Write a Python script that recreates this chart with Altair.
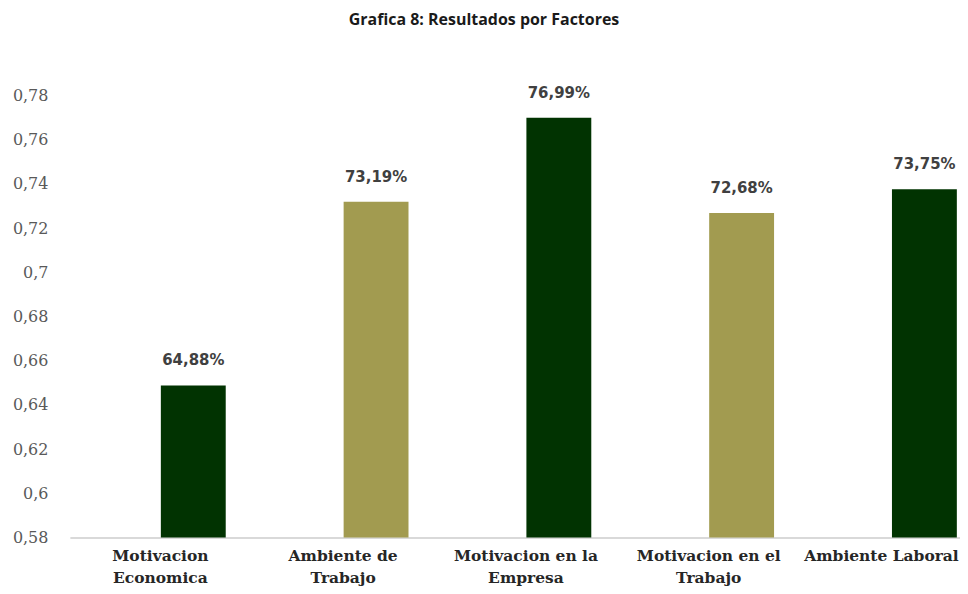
import altair as alt
import pandas as pd

categories = ["Motivacion Economica", "Ambiente de Trabajo", "Motivacion en la Empresa",
              "Motivacion en el Trabajo", "Ambiente Laboral"]
label_lines = [["Motivacion", "Economica"], ["Ambiente de", "Trabajo"],
               ["Motivacion en la", "Empresa"], ["Motivacion en el", "Trabajo"],
               ["Ambiente Laboral"]]
values = [0.6488, 0.7319, 0.7699, 0.7268, 0.7375]
value_labels = ["64,88%", "73,19%", "76,99%", "72,68%", "73,75%"]
groups = ["a", "b", "a", "b", "a"]
y_ticks = [0.58, 0.60, 0.62, 0.64, 0.66, 0.68, 0.70, 0.72, 0.74, 0.76, 0.78]

df = pd.DataFrame({"cat": categories, "value": values, "label": value_labels, "grp": groups})

mapping = "{" + ", ".join(
    f"'{c}': [{', '.join(repr(l) for l in ls)}]" for c, ls in zip(categories, label_lines)
) + "}"
x_label_expr = f"{mapping}[datum.value]"
last_cat = categories[-1]

BAR_SHIFT = 44  # bars sit right of the category centre (Excel two-series layout)

x = alt.X("cat:N", sort=categories, title=None,
          scale=alt.Scale(paddingInner=0.13, paddingOuter=0, align=0),
          axis=alt.Axis(labelExpr=x_label_expr, labelAngle=0, labelFont="DejaVu Serif",
                        labelFontWeight="bold", labelFontSize=15.5, labelColor="#262626",
                        labelPadding=11, labelLineHeight=22, ticks=False,
                        labelOffset=alt.condition(f"datum.value == '{last_cat}'",
                                                  alt.value(1), alt.value(11)),
                        domainColor="#d9d9d9", domainWidth=2, labelLimit=300))

y = alt.Y("value:Q", title=None,
          scale=alt.Scale(domain=[0.58, 0.78], nice=False, zero=False),
          axis=alt.Axis(values=y_ticks, labelExpr="replace(format(datum.value, '~g'), '.', ',')",
                        labelFont="DejaVu Serif", labelFontSize=16, labelColor="#595959",
                        labelPadding=22, ticks=False, domain=False, grid=False))

base = alt.Chart(df)
bars = base.mark_bar(width=alt.RelativeBandSize(0.408), xOffset=BAR_SHIFT).encode(
    x=x, y=y, y2=alt.datum(0.58),
    color=alt.Color("grp:N", legend=None,
                    scale=alt.Scale(domain=["a", "b"], range=["#013301", "#a29b50"]))
)
text = base.mark_text(baseline="bottom", dy=-17, dx=BAR_SHIFT, font="DejaVu Sans",
                      fontWeight="bold", fontSize=15, color="#404040").encode(
    x=x, y=y, text="label:N")

chart = (bars + text).properties(
    width=892, height=443, background="white",
    title=alt.TitleParams("Grafica 8: Resultados por Factores", font="Open Sans",
                          fontSize=16, fontWeight="bold", color="#1a1a1a",
                          anchor="middle", offset=58, dx=-31),
    padding={"left": 4, "top": 3, "right": 0, "bottom": 0},
).configure_view(stroke=None, strokeWidth=0)

chart.save("out.html", embed_options={"renderer": "svg", "actions": False})
